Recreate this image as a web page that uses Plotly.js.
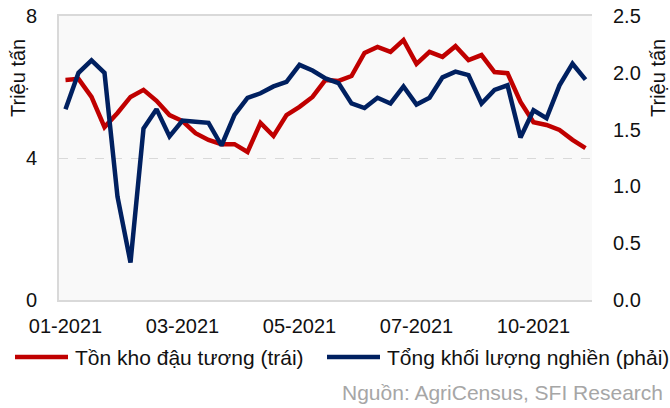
<!DOCTYPE html>
<html>
<head>
<meta charset="utf-8">
<script src="https://cdn.plot.ly/plotly-3.0.1.min.js"></script>
<style>
	html, body { margin: 0; padding: 0; background: #fff; }
	#plot { width: 670px; height: 408px; }
</style>
</head>
<body>
<div id="plot"></div>
<script>
// weekly readings, Jan 2021 -> Dec 2021
var stocks = [6.20, 6.23, 5.72, 4.87, 5.27, 5.72, 5.92, 5.61, 5.21, 5.04,
	4.70, 4.51, 4.39, 4.39, 4.17, 4.99, 4.62, 5.21, 5.44, 5.72,
	6.20, 6.17, 6.31, 6.96, 7.13, 6.99, 7.32, 6.65, 6.99, 6.85,
	7.15, 6.76, 6.90, 6.42, 6.39, 5.58, 5.01, 4.93, 4.79, 4.51, 4.28];
var crush = [1.68, 2.00, 2.11, 2.00, 0.91, 0.33, 1.51, 1.68, 1.44, 1.58,
	1.57, 1.56, 1.36, 1.63, 1.78, 1.82, 1.88, 1.92, 2.07, 2.02,
	1.95, 1.91, 1.73, 1.69, 1.78, 1.73, 1.88, 1.72, 1.78, 1.96,
	2.01, 1.98, 1.73, 1.85, 1.89, 1.43, 1.67, 1.60, 1.89, 2.08, 1.94];
var tickIdx = [0, 9, 18, 27, 36];
var tickLabels = ['01-2021', '03-2021', '05-2021', '07-2021', '10-2021'];
var leftTicks = [0, 4, 8];
var rightTicks = [0, 0.5, 1, 1.5, 2, 2.5];
var seriesNames = ['Tồn kho đậu tương (trái)', 'Tổng khối lượng nghiền (phải)'];
var seriesColors = ['#c00000', '#002060'];

var weeks = stocks.map((v, i) => i);
var FONT = 'Liberation Sans, Arial, sans-serif';
var TEXT = '#111111';

var data = [{
	x: weeks,
	y: stocks,
	type: 'scatter',
	mode: 'lines',
	name: seriesNames[0],
	line: { color: seriesColors[0], width: 4.5 }
}, {
	x: weeks,
	y: crush,
	type: 'scatter',
	mode: 'lines',
	yaxis: 'y2',
	name: seriesNames[1],
	line: { color: seriesColors[1], width: 4.5 }
}];

// plot area is 533 x 284 px, starting at (59, 16)
function px(x){ return (x - 59) / 533; }
function py(y){ return (300 - y) / 284; }

// hand made legend below the plot, Excel style (long line samples)
var legY = py(357);
var legLines = [[15, 68], [327, 380]];
var legText = [73, 385];
var shapes = seriesNames.map((n, i) => ({
	type: 'line',
	xref: 'paper', yref: 'paper',
	x0: px(legLines[i][0]), x1: px(legLines[i][1]),
	y0: legY, y1: legY,
	line: { color: seriesColors[i], width: 4.5 }
}));
var legendNotes = seriesNames.map((n, i) => ({
	text: n,
	xref: 'paper', yref: 'paper',
	x: px(legText[i]), y: legY,
	xanchor: 'left', yanchor: 'middle',
	showarrow: false,
	font: { family: FONT, size: 21, color: TEXT }
}));

var layout = {
	width: 670,
	height: 408,
	margin: { l: 59, r: 78, t: 16, b: 108, autoexpand: false },
	paper_bgcolor: '#ffffff',
	plot_bgcolor: '#f9f9f9',
	font: { family: FONT, size: 20, color: TEXT },
	showlegend: false,
	xaxis: {
		range: [-0.5, stocks.length - 0.5],
		tickmode: 'array',
		tickvals: tickIdx,
		ticktext: tickLabels,
		showgrid: false,
		zeroline: false,
		showline: true,
		linecolor: '#d9d9d9',
		linewidth: 2,
		mirror: true,
		ticks: 'outside',
		ticklen: 7,
		tickcolor: 'rgba(0,0,0,0)'
	},
	yaxis: {
		range: [0, 8],
		tickmode: 'array',
		tickvals: leftTicks,
		showgrid: true,
		gridcolor: '#d9d9d9',
		griddash: 'dash',
		gridwidth: 1,
		zeroline: false,
		showline: true,
		linecolor: '#d9d9d9',
		linewidth: 2,
		ticks: 'outside',
		ticklen: 16,
		tickcolor: 'rgba(0,0,0,0)'
	},
	yaxis2: {
		range: [0, 2.5],
		overlaying: 'y',
		side: 'right',
		tickmode: 'array',
		tickvals: rightTicks,
		tickformat: '.1f',
		showgrid: false,
		zeroline: false,
		showline: false,
		ticks: 'outside',
		ticklen: 16,
		tickcolor: 'rgba(0,0,0,0)'
	},
	shapes: shapes,
	annotations: [{
		text: 'Triệu tấn',
		xref: 'paper', yref: 'paper',
		x: px(18), y: py(78),
		xanchor: 'center', yanchor: 'middle',
		textangle: -90,
		showarrow: false,
		font: { family: FONT, size: 20, color: TEXT }
	}, {
		text: 'Triệu tấn',
		xref: 'paper', yref: 'paper',
		x: px(658), y: py(78),
		xanchor: 'center', yanchor: 'middle',
		textangle: -90,
		showarrow: false,
		font: { family: FONT, size: 20, color: TEXT }
	}, {
		text: 'Nguồn: AgriCensus, SFI Research',
		xref: 'paper', yref: 'paper',
		x: px(665), y: py(392),
		xanchor: 'right', yanchor: 'middle',
		showarrow: false,
		font: { family: FONT, size: 21, color: '#a6a6a6' }
	}].concat(legendNotes)
};

Plotly.newPlot('plot', data, layout, { displayModeBar: false, staticPlot: true });
</script>
</body>
</html>
